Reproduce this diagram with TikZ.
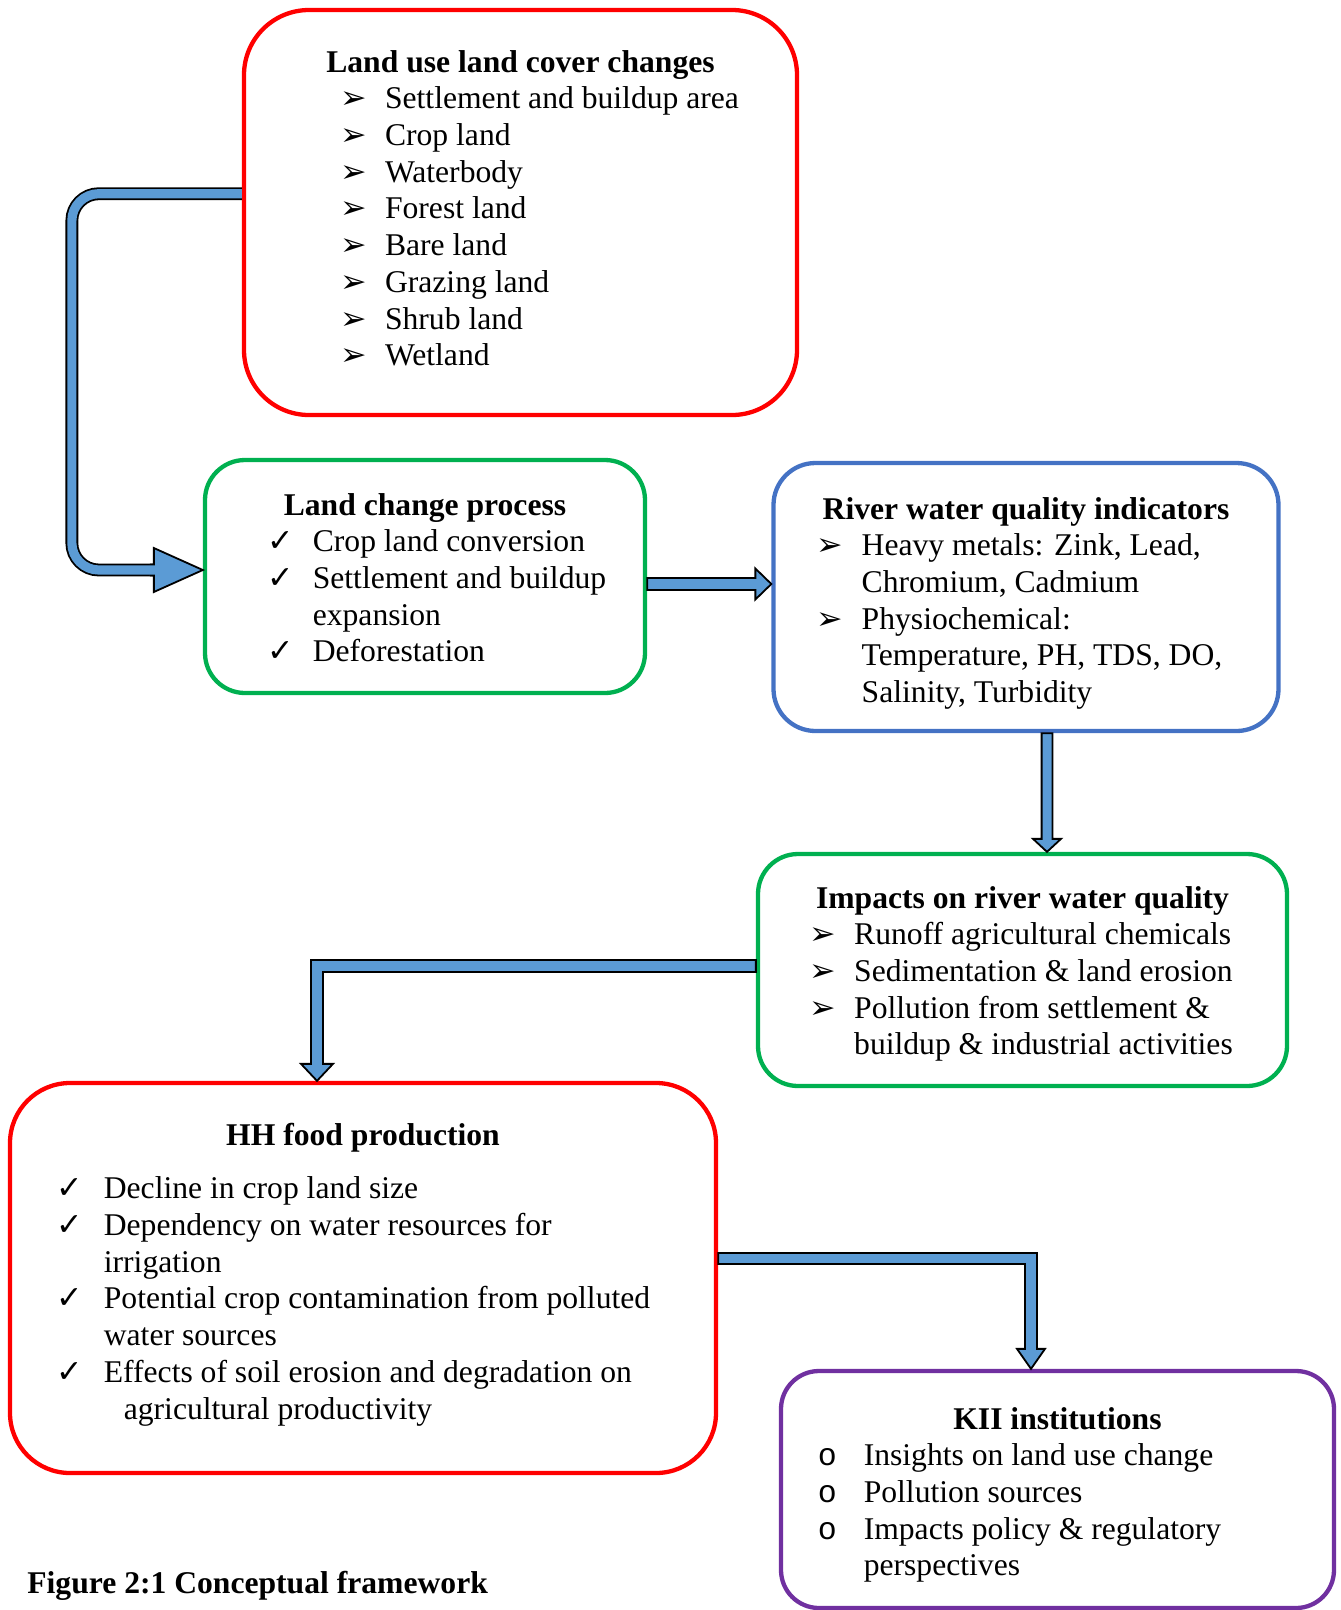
\documentclass[tikz,border=0pt]{standalone}
\usepackage{fontspec}
\setmainfont{Liberation Serif}
\newfontfamily\symfont{DejaVu Sans}
\newfontfamily\bulfont{Liberation Mono}
\usepackage{tikz}
\usetikzlibrary{calc}
\definecolor{lucred}    {RGB}{255,0,0}
\definecolor{procgreen} {RGB}{0,176,80}
\definecolor{wqblue}    {RGB}{68,114,196}
\definecolor{kiipurple} {RGB}{112,48,160}
\definecolor{arrowblue} {RGB}{91,155,213}
\newlength\pxu
\setlength\pxu{0.02cm}
\newcommand\arrbul{{\symfont\char"27A2}}
\newcommand\chkbul{{\symfont\char"2713}}
\newcommand\cirbul{{\bulfont o}}
\tikzset{
  catbox/.style={draw=#1, line width=4.3\pxu, inner sep=0pt,
                 font=\fontsize{18}{20.9}\selectfont, text height=0pt},
  blockarrow/.style={draw=black, line width=1.8\pxu, fill=arrowblue},
  shaft/.style={draw=black, line width=1.8\pxu, double=arrowblue,
                double distance=9.2\pxu},
}

\begin{document}
\begin{tikzpicture}[x=0.02cm,y=-0.02cm]
  \useasboundingbox (0,0) rectangle (1340,1610);
  % boxes
  \node[catbox=lucred, rounded corners=65\pxu, minimum width=553\pxu,
        minimum height=405\pxu, text depth=281\pxu] (luc) at (520.5,212.5)
  {\begin{tabular}[t]{@{}c@{}}
   \textbf{Land use land cover changes}\\
   \hspace*{38\pxu}\begin{tabular}[t]{@{}p{45\pxu}@{}l@{}}
     \arrbul & Settlement and buildup area\\
     \arrbul & Crop land\\
     \arrbul & Waterbody\\
     \arrbul & Forest land\\
     \arrbul & Bare land\\
     \arrbul & Grazing land\\
     \arrbul & Shrub land\\
     \arrbul & Wetland
   \end{tabular}
   \end{tabular}};
  \node[catbox=procgreen, rounded corners=40\pxu, minimum width=440\pxu,
        minimum height=233\pxu, text depth=123\pxu] (lcp) at (425,576.5)
  {\begin{tabular}[t]{@{}c@{}}
   \textbf{Land change process}\\
   \hspace*{24\pxu}\begin{tabular}[t]{@{}p{45\pxu}@{}l@{}}
     \chkbul & Crop land conversion\\
     \chkbul & Settlement and buildup\\
             & expansion\\
     \chkbul & Deforestation
   \end{tabular}
   \end{tabular}};
  \node[catbox=wqblue, rounded corners=42\pxu, minimum width=505\pxu,
        minimum height=268\pxu, text depth=156\pxu] (rwq) at (1026,597)
  {\begin{tabular}[t]{@{}c@{}}
   \textbf{River water quality indicators}\\
   \hspace*{-13\pxu}\begin{tabular}[t]{@{}p{45\pxu}@{}l@{}}
     \arrbul & Heavy metals: Zink, Lead,\\
             & Chromium, Cadmium\\
     \arrbul & Physiochemical:\\
             & Temperature, PH, TDS, DO,\\
             & Salinity, Turbidity
   \end{tabular}
   \end{tabular}};
  \node[catbox=procgreen, rounded corners=40\pxu, minimum width=529\pxu,
        minimum height=232\pxu, text depth=124\pxu] (imp) at (1022.5,970)
  {\begin{tabular}[t]{@{}c@{}}
   \textbf{Impacts on river water quality}\\
   \hspace*{-3\pxu}\begin{tabular}[t]{@{}p{45\pxu}@{}l@{}}
     \arrbul & Runoff agricultural chemicals\\
     \arrbul & Sedimentation \& land erosion\\
     \arrbul & Pollution from settlement \&\\
             & buildup \& industrial activities
   \end{tabular}
   \end{tabular}};
  \node[catbox=lucred, rounded corners=60\pxu, minimum width=706\pxu,
        minimum height=390\pxu, text depth=266\pxu] (hhf) at (363,1278)
  {\begin{tabular}[t]{@{}c@{}}
   \textbf{HH food production}\\[17\pxu]
   \hspace*{-19\pxu}\begin{tabular}[t]{@{}p{47\pxu}@{}l@{}}
     \chkbul & Decline in crop land size\\
     \chkbul & Dependency on water resources for\\
             & irrigation\\
     \chkbul & Potential crop contamination from polluted\\
             & water sources\\
     \chkbul & Effects of soil erosion and degradation on\\
             & \hspace*{20\pxu}agricultural productivity
   \end{tabular}
   \end{tabular}};
  \node[catbox=kiipurple, rounded corners=38\pxu, minimum width=553\pxu,
        minimum height=237\pxu, text depth=121\pxu] (kii) at (1057.5,1489.5)
  {\begin{tabular}[t]{@{}c@{}}
   \textbf{KII institutions}\\
   \hspace*{-76\pxu}\begin{tabular}[t]{@{}p{46\pxu}@{}l@{}}
     \cirbul & Insights on land use change\\
     \cirbul & Pollution sources\\
     \cirbul & Impacts policy \& regulatory\\
             & perspectives
   \end{tabular}
   \end{tabular}};
  \node[anchor=base west, inner sep=0pt,
        font=\fontsize{18}{20.9}\selectfont\bfseries] (cap) at (27,1593)
    {Figure 2:1 Conceptual framework};
  % block arrows
  \coordinate (a1s) at ([yshift=18.8\pxu]luc.west);
  \coordinate (a1e) at ([yshift=6.5\pxu]lcp.west);
  \draw[shaft, rounded corners=27\pxu] (a1s) -| ($(a1e)+(-131,0)$) -- ($(a1e)+(-46,0)$);
  \filldraw[blockarrow] ($(a1e)+(-53,-5.5)$) -- ($(a1e)+(-49,-5.5)$) -- ($(a1e)+(-49,-22)$)
    -- (a1e) -- ($(a1e)+(-49,22)$) -- ($(a1e)+(-49,5.5)$) -- ($(a1e)+(-53,5.5)$);
  \coordinate (a2s) at ([yshift=-7.5\pxu]lcp.east);
  \coordinate (a2e) at ([yshift=13\pxu]rwq.west);
  \filldraw[blockarrow] ($(a2s)+(0,-6)$) -| ($(a2e)+(-16,-15.5)$) -- (a2e)
    -- ($(a2e)+(-16,15.5)$) |- ($(a2s)+(0,6)$) -- cycle;
  \coordinate (a3s) at ([xshift=21\pxu]rwq.south);
  \coordinate (a3e) at (a3s |- imp.north);
  \filldraw[blockarrow] ($(a3s)+(-5.4,0)$) |- ($(a3e)+(-14,-13)$) -- (a3e)
    -- ($(a3e)+(14,-13)$) -| ($(a3s)+(5.4,0)$) -- cycle;
  \coordinate (a4s) at ([yshift=4\pxu]imp.west);
  \coordinate (a4e) at ([xshift=-46\pxu]hhf.north);
  \filldraw[blockarrow] ($(a4s)+(0,-6)$) -| ($(a4e)+(-6,-17)$) -- ($(a4e)+(-16,-17)$)
    -- (a4e) -- ($(a4e)+(16,-17)$) -- ($(a4e)+(6,-17)$) |- ($(a4s)+(0,6)$) -- cycle;
  \coordinate (a5s) at ([yshift=19.5\pxu]hhf.east);
  \coordinate (a5e) at ([xshift=-26.5\pxu]kii.north);
  \filldraw[blockarrow] ($(a5s)+(0,-5.5)$) -| ($(a5e)+(6,-20)$) -- ($(a5e)+(14,-20)$)
    -- (a5e) -- ($(a5e)+(-14,-20)$) -- ($(a5e)+(-6,-20)$) |- ($(a5s)+(0,5.5)$) -- cycle;
\end{tikzpicture}
\end{document}
